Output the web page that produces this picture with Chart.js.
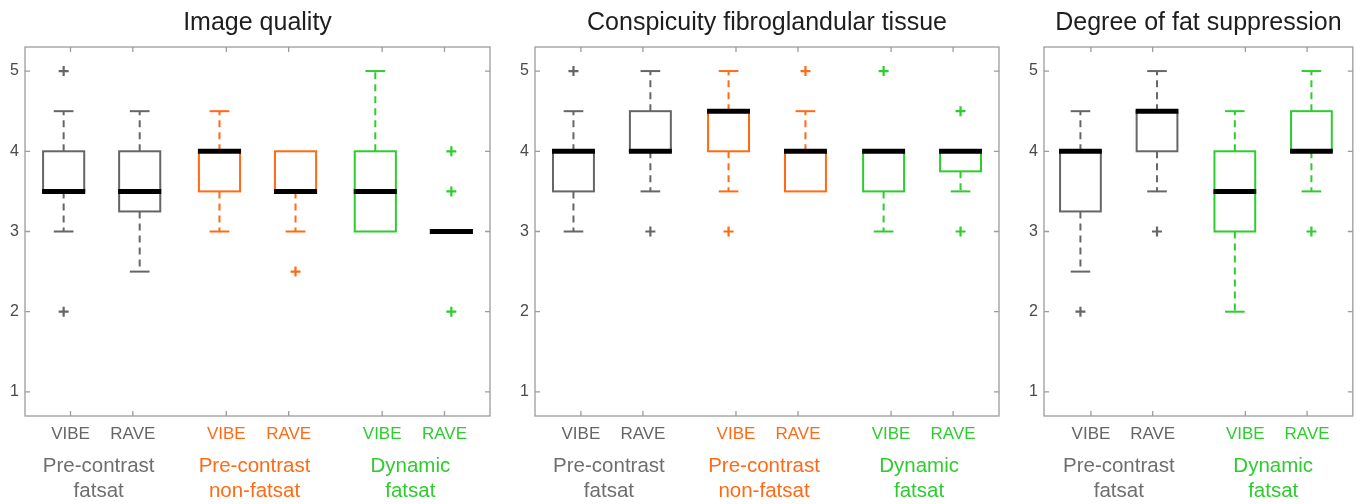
<!DOCTYPE html>
<html>
<head>
<meta charset="utf-8">
<title>Image quality scores</title>
<script src="https://cdn.jsdelivr.net/npm/chart.js@4.4.1/dist/chart.umd.min.js"></script>
<style>
body { margin: 0; background: #fff; width: 1360px; height: 504px; position: relative; overflow: hidden; }
canvas { position: absolute; top: 0; }
</style>
</head>
<body>
<canvas id="iq_chart" width="500" height="504" style="left:0px"></canvas>
<canvas id="cf_chart" width="500" height="504" style="left:510px"></canvas>
<canvas id="fs_chart" width="341" height="504" style="left:1019px"></canvas>
<script>
'use strict';

// categories / groups
var sequences6 = ['VIBE', 'RAVE', 'VIBE', 'RAVE', 'VIBE', 'RAVE']
var sequences4 = ['VIBE', 'RAVE', 'VIBE', 'RAVE']
var catPos6 = [1, 2, 3.5, 4.5, 6, 7]
var catPos4 = [1, 2, 3.5, 4.5]
var scoreTicks = [1, 2, 3, 4, 5]

// image quality
var iqLow = [3, 2.5, 3, 3, 3, 3]
var iqQ1 = [3.5, 3.25, 3.5, 3.5, 3, 3]
var iqMed = [3.5, 3.5, 4, 3.5, 3.5, 3]
var iqQ3 = [4, 4, 4, 4, 4, 3]
var iqHigh = [4.5, 4.5, 4.5, 4, 5, 3]
var iqOutliers = [[5, 2], [], [], [2.5], [], [4, 3.5, 2]]

// conspicuity fibroglandular tissue
var cfLow = [3, 3.5, 3.5, 3.5, 3, 3.5]
var cfQ1 = [3.5, 4, 4, 3.5, 3.5, 3.75]
var cfMed = [4, 4, 4.5, 4, 4, 4]
var cfQ3 = [4, 4.5, 4.5, 4, 4, 4]
var cfHigh = [4.5, 5, 5, 4.5, 4, 4]
var cfOutliers = [[5], [3], [3], [5], [5], [4.5, 3]]

// degree of fat suppression
var fsLow = [2.5, 3.5, 2, 3.5]
var fsQ1 = [3.25, 4, 3, 4]
var fsMed = [4, 4.5, 3.5, 4]
var fsQ3 = [4, 4.5, 4, 4.5]
var fsHigh = [4.5, 5, 4.5, 5]
var fsOutliers = [[2], [3], [], [3]]

var GREY = '#666666'
var ORANGE = '#ff6a14'
var GREEN = '#2ecc2e'
var FONT = '"Liberation Sans", Arial, Helvetica, sans-serif'

var groupsFull = [
    { lines: ['Pre-contrast', 'fatsat'], color: '#6e6e6e', from: 0, to: 1 },
    { lines: ['Pre-contrast', 'non-fatsat'], color: ORANGE, from: 2, to: 3 },
    { lines: ['Dynamic', 'fatsat'], color: GREEN, from: 4, to: 5 }
]
var groupsShort = [
    { lines: ['Pre-contrast', 'fatsat'], color: '#6e6e6e', from: 0, to: 1 },
    { lines: ['Dynamic', 'fatsat'], color: GREEN, from: 2, to: 3 }
]

function makePlugin(panel) {
    return {
        id: 'boxpanel_' + panel.id,
        beforeDatasetsDraw(chart) {
            let ctx = chart.ctx
            let xs = chart.scales.x
            let ys = chart.scales.y
            ctx.save()
            for (let i = 0; i < panel.med.length; i++) {
                let pos = panel.pos[i] + panel.shift[i % 2]
                let xc = xs.getPixelForValue(pos)
                let half = xs.getPixelForValue(pos + 0.33) - xc
                let cap = half * 0.48
                let color = panel.colors[i]
                ctx.strokeStyle = color
                ctx.lineWidth = 2
                // whiskers
                let yq1 = ys.getPixelForValue(panel.q1[i])
                let yq3 = ys.getPixelForValue(panel.q3[i])
                if (panel.high[i] > panel.q3[i]) {
                    let yh = ys.getPixelForValue(panel.high[i])
                    ctx.setLineDash([7, 5])
                    ctx.beginPath(); ctx.moveTo(xc, yq3); ctx.lineTo(xc, yh); ctx.stroke()
                    ctx.setLineDash([])
                    ctx.beginPath(); ctx.moveTo(xc - cap, yh); ctx.lineTo(xc + cap, yh); ctx.stroke()
                }
                if (panel.low[i] < panel.q1[i]) {
                    let yl = ys.getPixelForValue(panel.low[i])
                    ctx.setLineDash([7, 5])
                    ctx.beginPath(); ctx.moveTo(xc, yq1); ctx.lineTo(xc, yl); ctx.stroke()
                    ctx.setLineDash([])
                    ctx.beginPath(); ctx.moveTo(xc - cap, yl); ctx.lineTo(xc + cap, yl); ctx.stroke()
                }
                // box
                ctx.strokeRect(xc - half, yq3, half * 2, yq1 - yq3)
                // median
                let ym = ys.getPixelForValue(panel.med[i])
                ctx.strokeStyle = '#000'
                ctx.lineWidth = 5
                ctx.beginPath(); ctx.moveTo(xc - half - 1, ym); ctx.lineTo(xc + half + 1, ym); ctx.stroke()
            }
            ctx.restore()
        },
        afterDraw(chart) {
            let ctx = chart.ctx
            let a = chart.chartArea
            let xs = chart.scales.x
            let ys = chart.scales.y
            ctx.save()
            // frame and inward ticks
            ctx.strokeStyle = '#9c9c9c'
            ctx.lineWidth = 1.3
            ctx.strokeRect(a.left, a.top, a.right - a.left, a.bottom - a.top)
            ctx.beginPath()
            ys.ticks.forEach(function (t) {
                let y = ys.getPixelForValue(t.value)
                ctx.moveTo(a.left, y); ctx.lineTo(a.left + 5, y)
                ctx.moveTo(a.right, y); ctx.lineTo(a.right - 5, y)
            })
            xs.ticks.forEach(function (t) {
                let x = xs.getPixelForValue(t.value)
                ctx.moveTo(x, a.top); ctx.lineTo(x, a.top + 5)
                ctx.moveTo(x, a.bottom); ctx.lineTo(x, a.bottom - 5)
            })
            ctx.stroke()
            // title
            ctx.fillStyle = '#1e1e1e'
            ctx.font = '25px ' + FONT
            ctx.textAlign = 'center'
            ctx.textBaseline = 'alphabetic'
            ctx.fillText(panel.title, (a.left + a.right) / 2, 30)
            // group labels
            ctx.font = '20.5px ' + FONT
            panel.groups.forEach(function (g) {
                let xm = (xs.getPixelForValue(panel.pos[g.from]) + xs.getPixelForValue(panel.pos[g.to])) / 2 - 3
                ctx.fillStyle = g.color
                ctx.fillText(g.lines[0], xm, a.bottom + 56)
                ctx.fillText(g.lines[1], xm, a.bottom + 81)
            })
            ctx.restore()
        }
    }
}

function drawPanel(panel) {
    let outlierPoints = []
    let outlierColors = []
    for (let i = 0; i < panel.outliers.length; i++) {
        panel.outliers[i].forEach(function (v) {
            outlierPoints.push({ x: panel.pos[i] + panel.shift[i % 2], y: v })
            outlierColors.push(panel.colors[i])
        })
    }

    let config = {
        type: 'scatter',
        data: {
            datasets: [{
                data: outlierPoints,
                pointStyle: 'cross',
                pointRadius: 5,
                pointBorderWidth: 2.2,
                pointBorderColor: outlierColors,
                pointBackgroundColor: outlierColors
            }]
        },
        options: {
            responsive: false,
            animation: false,
            events: [],
            layout: { padding: { left: 0, right: panel.rightPad, top: 47, bottom: 0 } },
            plugins: { legend: { display: false }, tooltip: { enabled: false }, title: { display: false } },
            scales: {
                x: {
                    type: 'linear',
                    min: panel.xMin,
                    max: panel.xMax,
                    grid: { display: false, drawTicks: false },
                    border: { display: false },
                    afterBuildTicks: function (scale) {
                        scale.ticks = panel.pos.map(function (v) { return { value: v } })
                    },
                    afterFit: function (scale) { scale.height = 88 },
                    ticks: {
                        autoSkip: false,
                        maxRotation: 0,
                        padding: 8,
                        font: { family: FONT, size: 17 },
                        color: function (c) { return panel.colors[c.index] },
                        callback: function (value, index) { return panel.labels[index] }
                    }
                },
                y: {
                    min: 0.7,
                    max: 5.3,
                    grid: { display: false, drawTicks: false },
                    border: { display: false },
                    afterBuildTicks: function (scale) {
                        scale.ticks = scoreTicks.map(function (v) { return { value: v } })
                    },
                    afterFit: function (scale) { scale.width = 25 },
                    ticks: {
                        padding: 6,
                        font: { family: FONT, size: 16 },
                        color: '#4a4a4a',
                        callback: function (value) { return String(value) }
                    }
                }
            }
        },
        plugins: [makePlugin(panel)]
    }
    return new Chart(document.getElementById(panel.id), config)
}

var colors6 = [GREY, GREY, ORANGE, ORANGE, GREEN, GREEN]
var colors4 = [GREY, GREY, GREEN, GREEN]

drawPanel({
    id: 'iq_chart', title: 'Image quality',
    pos: catPos6, labels: sequences6, colors: colors6, groups: groupsFull,
    low: iqLow, q1: iqQ1, med: iqMed, q3: iqQ3, high: iqHigh, outliers: iqOutliers,
    shift: [-0.11, 0.11], xMin: 0.27, xMax: 7.73, rightPad: 10
})
drawPanel({
    id: 'cf_chart', title: 'Conspicuity fibroglandular tissue',
    pos: catPos6, labels: sequences6, colors: colors6, groups: groupsFull,
    low: cfLow, q1: cfQ1, med: cfMed, q3: cfQ3, high: cfHigh, outliers: cfOutliers,
    shift: [-0.12, 0.12], xMin: 0.26, xMax: 7.74, rightPad: 11
})
drawPanel({
    id: 'fs_chart', title: 'Degree of fat suppression',
    pos: catPos4, labels: sequences4, colors: colors4, groups: groupsShort,
    low: fsLow, q1: fsQ1, med: fsMed, q3: fsQ3, high: fsHigh, outliers: fsOutliers,
    shift: [-0.17, 0.07], xMin: 0.24, xMax: 5.24, rightPad: 6
})
</script>
</body>
</html>
